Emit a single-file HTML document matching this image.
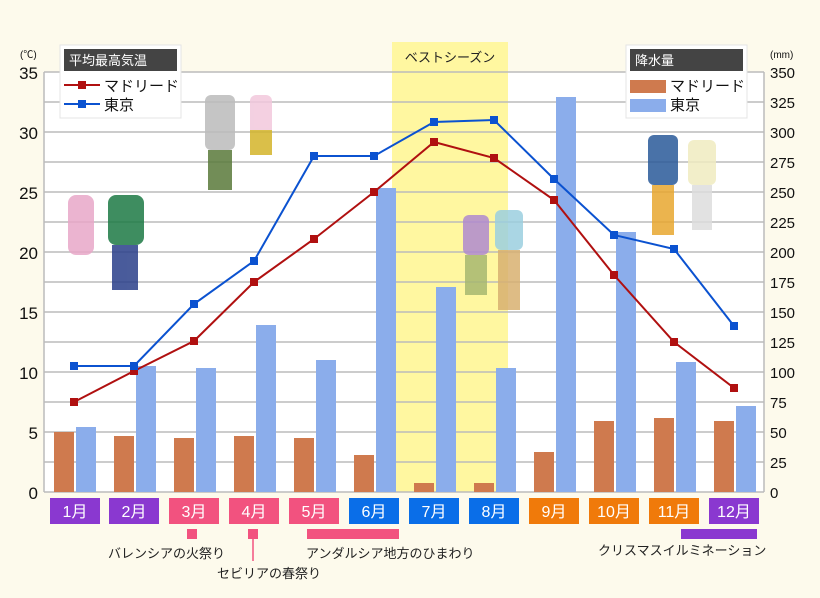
<!DOCTYPE html>
<html><head><meta charset="utf-8"><style>
body{margin:0;background:#fdfaec;}
svg text{font-family:"Liberation Sans","Noto Sans CJK JP",sans-serif;}
</style></head><body>
<svg width="820" height="593" viewBox="0 0 820 593" xmlns="http://www.w3.org/2000/svg">
<rect width="820" height="593" fill="#fdfaec"/>
<rect x="44" y="72" width="720" height="420" fill="#fff"/>
<rect x="392" y="42" width="116" height="450" fill="#fff7a0"/>
<text x="450" y="62" font-size="13" text-anchor="middle" fill="#222">ベストシーズン</text>
<g stroke="#bbb" stroke-width="1.5">
<line x1="44" y1="72" x2="764" y2="72"/><line x1="44" y1="102" x2="764" y2="102"/><line x1="44" y1="132" x2="764" y2="132"/><line x1="44" y1="162" x2="764" y2="162"/><line x1="44" y1="192" x2="764" y2="192"/><line x1="44" y1="222" x2="764" y2="222"/><line x1="44" y1="252" x2="764" y2="252"/><line x1="44" y1="282" x2="764" y2="282"/><line x1="44" y1="312" x2="764" y2="312"/><line x1="44" y1="342" x2="764" y2="342"/><line x1="44" y1="372" x2="764" y2="372"/><line x1="44" y1="402" x2="764" y2="402"/><line x1="44" y1="432" x2="764" y2="432"/><line x1="44" y1="462" x2="764" y2="462"/>
<line x1="44" y1="72" x2="44" y2="492"/><line x1="764" y1="72" x2="764" y2="492"/>
<line x1="44" y1="492" x2="764" y2="492"/>
</g>
<g font-size="17" fill="#111" text-anchor="end">
<text x="38" y="79">35</text><text x="38" y="139">30</text><text x="38" y="199">25</text><text x="38" y="259">20</text><text x="38" y="319">15</text><text x="38" y="379">10</text><text x="38" y="439">5</text><text x="38" y="499">0</text>
</g>
<text x="20" y="58" font-size="10" fill="#111">(℃)</text>
<text x="770" y="58" font-size="10" fill="#111">(mm)</text>
<g font-size="15" fill="#111">
<text x="770" y="78">350</text><text x="770" y="108">325</text><text x="770" y="138">300</text><text x="770" y="168">275</text><text x="770" y="198">250</text><text x="770" y="228">225</text><text x="770" y="258">200</text><text x="770" y="288">175</text><text x="770" y="318">150</text><text x="770" y="348">125</text><text x="770" y="378">100</text><text x="770" y="408">75</text><text x="770" y="438">50</text><text x="770" y="468">25</text><text x="770" y="498">0</text>
</g>
<!-- bars: madrid -->
<g fill="#cf7a4e">
<rect x="54" y="432" width="20" height="60"/><rect x="114" y="436" width="20" height="56"/><rect x="174" y="438" width="20" height="54"/><rect x="234" y="436" width="20" height="56"/><rect x="294" y="438" width="20" height="54"/><rect x="354" y="455" width="20" height="37"/><rect x="414" y="483" width="20" height="9"/><rect x="474" y="483" width="20" height="9"/><rect x="534" y="452" width="20" height="40"/><rect x="594" y="421" width="20" height="71"/><rect x="654" y="418" width="20" height="74"/><rect x="714" y="421" width="20" height="71"/>
</g>
<g fill="#8badeb">
<rect x="76" y="427" width="20" height="65"/><rect x="136" y="366" width="20" height="126"/><rect x="196" y="368" width="20" height="124"/><rect x="256" y="325" width="20" height="167"/><rect x="316" y="360" width="20" height="132"/><rect x="376" y="188" width="20" height="304"/><rect x="436" y="287" width="20" height="205"/><rect x="496" y="368" width="20" height="124"/><rect x="556" y="97" width="20" height="395"/><rect x="616" y="232" width="20" height="260"/><rect x="676" y="362" width="20" height="130"/><rect x="736" y="406" width="20" height="86"/>
</g>
<!-- simple figures -->
<g opacity="0.85">
<rect x="68" y="195" width="26" height="60" rx="8" fill="#e8a8c8"/><rect x="108" y="195" width="36" height="50" rx="8" fill="#1d7a45"/><rect x="112" y="245" width="26" height="45" fill="#2a3f8a"/>
<rect x="205" y="95" width="30" height="55" rx="6" fill="#bbb"/><rect x="208" y="150" width="24" height="40" fill="#5a7a3a"/>
<rect x="250" y="95" width="22" height="50" rx="6" fill="#f2c8dc"/><rect x="250" y="130" width="22" height="25" fill="#d4b52a"/>
<rect x="463" y="215" width="26" height="40" rx="6" fill="#b08ad0"/><rect x="465" y="255" width="22" height="40" fill="#a8b870"/>
<rect x="495" y="210" width="28" height="40" rx="6" fill="#9cd0e0"/><rect x="498" y="250" width="22" height="60" fill="#d8b070"/>
<rect x="648" y="135" width="30" height="50" rx="6" fill="#2a5a9a"/><rect x="652" y="185" width="22" height="50" fill="#e8a830"/>
<rect x="688" y="140" width="28" height="45" rx="6" fill="#f0ecc0"/><rect x="692" y="185" width="20" height="45" fill="#ddd"/>
</g>
<!-- lines -->
<polyline points="74,402 134,371 194,341 254,282 314,239 374,192 434,142 494,158 554,200 614,275 674,342 734,388" fill="none" stroke="#b01010" stroke-width="2"/>
<polyline points="74,366 134,366 194,304 254,261 314,156 374,156 434,122 494,120 554,179 614,235 674,249 734,326" fill="none" stroke="#0b52d0" stroke-width="2"/>
<g fill="#b01010">
<rect x="70" y="398" width="8" height="8"/><rect x="130" y="367" width="8" height="8"/><rect x="190" y="337" width="8" height="8"/><rect x="250" y="278" width="8" height="8"/><rect x="310" y="235" width="8" height="8"/><rect x="370" y="188" width="8" height="8"/><rect x="430" y="138" width="8" height="8"/><rect x="490" y="154" width="8" height="8"/><rect x="550" y="196" width="8" height="8"/><rect x="610" y="271" width="8" height="8"/><rect x="670" y="338" width="8" height="8"/><rect x="730" y="384" width="8" height="8"/>
</g>
<g fill="#0b52d0">
<rect x="70" y="362" width="8" height="8"/><rect x="130" y="362" width="8" height="8"/><rect x="190" y="300" width="8" height="8"/><rect x="250" y="257" width="8" height="8"/><rect x="310" y="152" width="8" height="8"/><rect x="370" y="152" width="8" height="8"/><rect x="430" y="118" width="8" height="8"/><rect x="490" y="116" width="8" height="8"/><rect x="550" y="175" width="8" height="8"/><rect x="610" y="231" width="8" height="8"/><rect x="670" y="245" width="8" height="8"/><rect x="730" y="322" width="8" height="8"/>
</g>
<!-- legends -->
<rect x="60" y="45" width="121" height="73" fill="#fff" stroke="#e4e4e4"/>
<rect x="64" y="49" width="113" height="22" fill="#444"/>
<text x="69" y="65" font-size="13" fill="#fff">平均最高気温</text>
<line x1="64" y1="85" x2="100" y2="85" stroke="#b01010" stroke-width="2"/><rect x="78" y="81" width="8" height="8" fill="#b01010"/>
<text x="104" y="91" font-size="15" fill="#111">マドリード</text>
<line x1="64" y1="104" x2="100" y2="104" stroke="#0b52d0" stroke-width="2"/><rect x="78" y="100" width="8" height="8" fill="#0b52d0"/>
<text x="104" y="110" font-size="15" fill="#111">東京</text>
<rect x="626" y="45" width="121" height="73" fill="#fff" stroke="#e4e4e4"/>
<rect x="630" y="49" width="113" height="22" fill="#444"/>
<text x="635" y="65" font-size="13" fill="#fff">降水量</text>
<rect x="630" y="80" width="36" height="13" fill="#cf7a4e"/>
<text x="670" y="91" font-size="15" fill="#111">マドリード</text>
<rect x="630" y="99" width="36" height="13" fill="#8badeb"/>
<text x="670" y="110" font-size="15" fill="#111">東京</text>
<!-- month labels -->
<g font-size="16" fill="#fff" text-anchor="middle">
<rect x="50" y="498" width="50" height="26" fill="#8a38d0"/><text x="75" y="517">1月</text>
<rect x="109" y="498" width="50" height="26" fill="#8a38d0"/><text x="134" y="517">2月</text>
<rect x="169" y="498" width="50" height="26" fill="#f2527f"/><text x="194" y="517">3月</text>
<rect x="229" y="498" width="50" height="26" fill="#f2527f"/><text x="254" y="517">4月</text>
<rect x="289" y="498" width="50" height="26" fill="#f2527f"/><text x="314" y="517">5月</text>
<rect x="349" y="498" width="50" height="26" fill="#0a6ee8"/><text x="374" y="517">6月</text>
<rect x="409" y="498" width="50" height="26" fill="#0a6ee8"/><text x="434" y="517">7月</text>
<rect x="469" y="498" width="50" height="26" fill="#0a6ee8"/><text x="494" y="517">8月</text>
<rect x="529" y="498" width="50" height="26" fill="#f07a0a"/><text x="554" y="517">9月</text>
<rect x="589" y="498" width="50" height="26" fill="#f07a0a"/><text x="614" y="517">10月</text>
<rect x="649" y="498" width="50" height="26" fill="#f07a0a"/><text x="674" y="517">11月</text>
<rect x="709" y="498" width="50" height="26" fill="#8a38d0"/><text x="734" y="517">12月</text>
</g>
<rect x="187" y="529" width="10" height="10" fill="#f2527f"/>
<rect x="248" y="529" width="10" height="10" fill="#f2527f"/>
<line x1="253" y1="539" x2="253" y2="561" stroke="#f2527f" stroke-width="1.5"/>
<rect x="307" y="529" width="92" height="10" fill="#f2527f"/>
<rect x="681" y="529" width="76" height="10" fill="#8a38d0"/>
<g font-size="13" fill="#222">
<text x="108" y="558">バレンシアの火祭り</text>
<text x="217" y="578">セビリアの春祭り</text>
<text x="306" y="558">アンダルシア地方のひまわり</text>
<text x="598" y="555">クリスマスイルミネーション</text>
</g>
</svg>
</body></html>
